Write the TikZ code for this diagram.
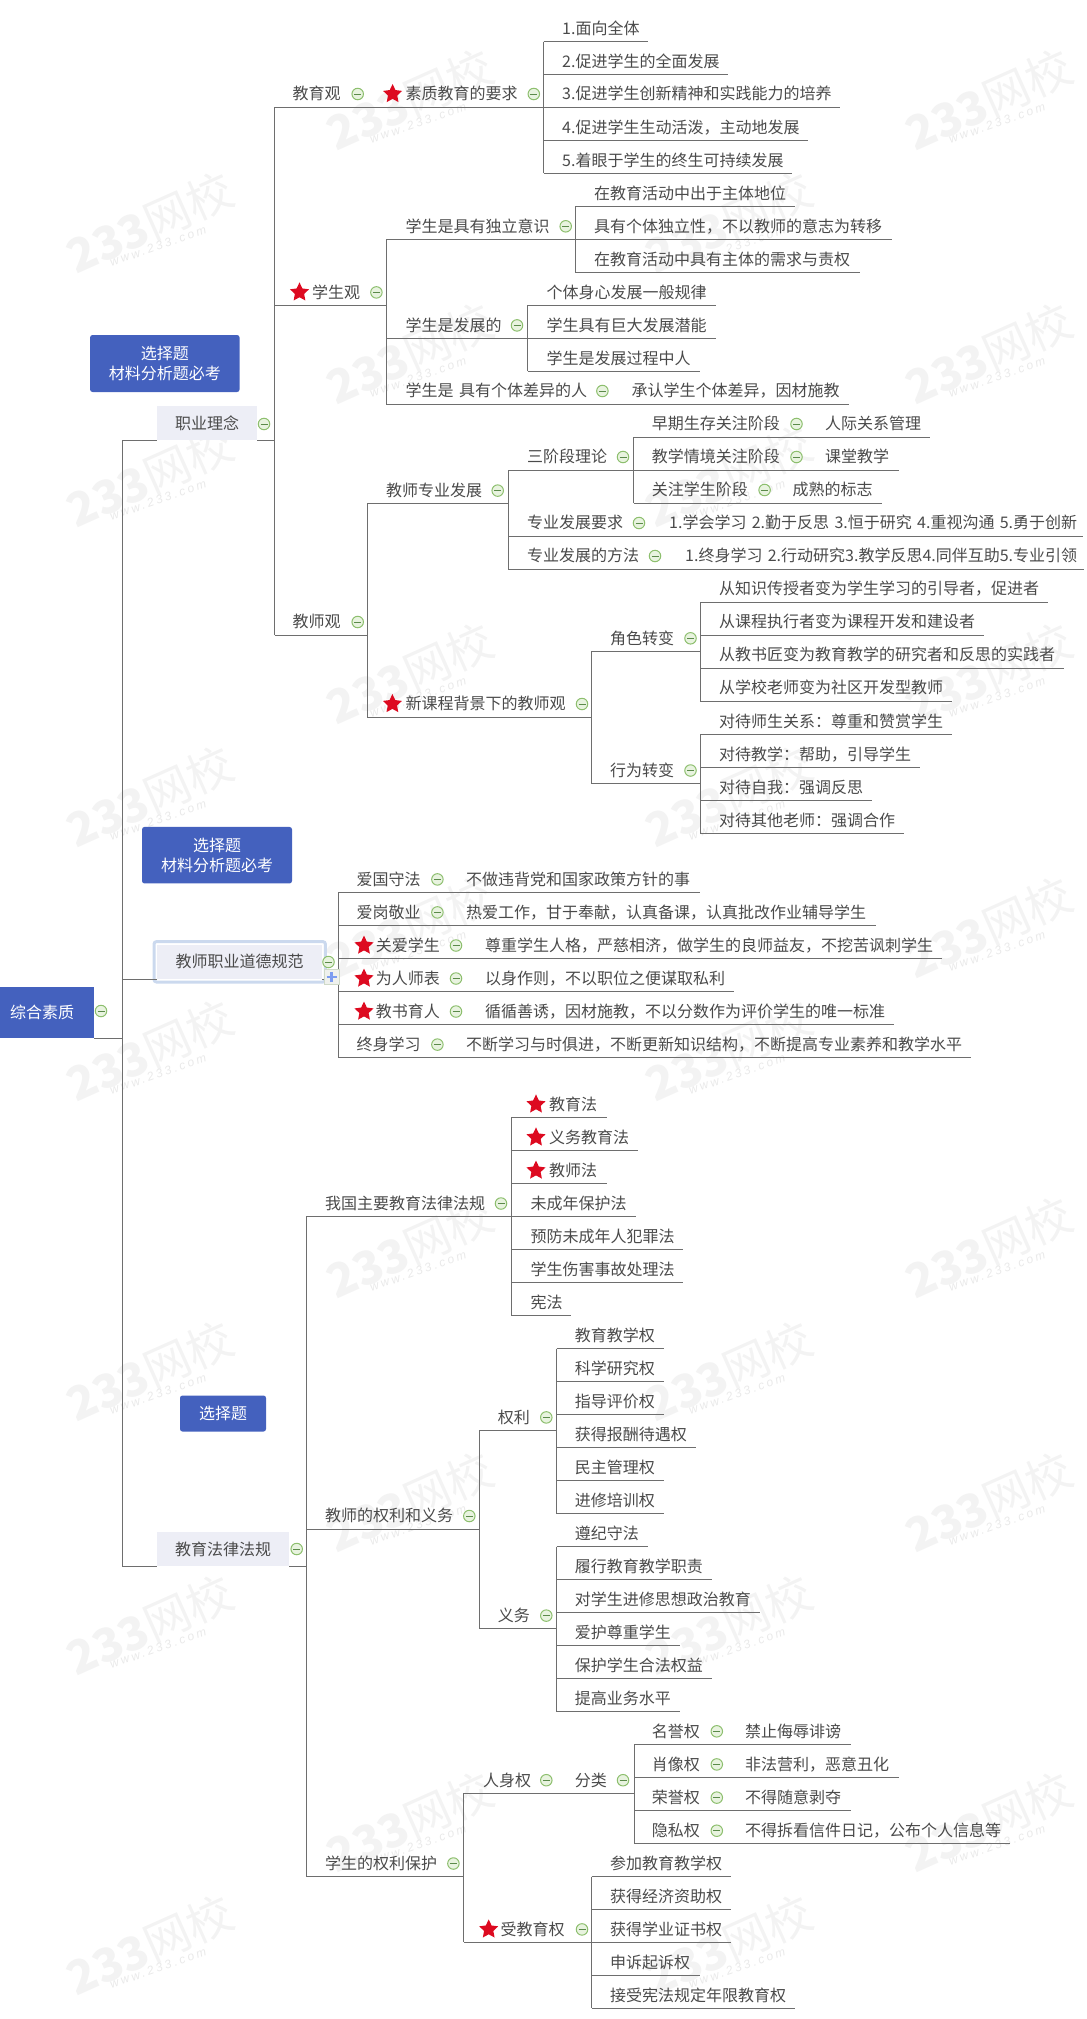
\documentclass[tikz,border=0pt]{standalone}
\usepackage{fontspec}
\setmainfont{Noto Sans CJK SC}
\newfontfamily\wmsmall[LetterSpace=22]{Liberation Sans}
\usetikzlibrary{shapes.geometric}
\definecolor{txtc}{HTML}{4A4A4A}
\definecolor{wirec}{HTML}{6E6E6E}
\definecolor{notec}{HTML}{4461BE}
\definecolor{branchc}{HTML}{EDEEF6}
\definecolor{wmc}{HTML}{F3F3F3}
\definecolor{iconline}{HTML}{8DBF6E}
\definecolor{iconfill}{HTML}{E8F3DF}
\definecolor{iconbar}{HTML}{5B8A4A}
\definecolor{starc}{HTML}{DD0A20}
\definecolor{framec}{HTML}{CBD9EE}
\definecolor{pluscol}{HTML}{7C9CF0}
\tikzset{
  wire/.style={draw=wirec,line width=0.9pt},
  topic/.style 2 args={anchor=south west,inner sep=0pt,text width=#2pt,align=left,
    text height=16pt,text depth=7pt,text=txtc,font=\fontsize{16pt}{20pt}\selectfont,
    execute at begin node={\hspace*{#1pt}},
    append after command={(\tikzlastnode.south west) edge[wire] (\tikzlastnode.south east)}},
  note/.style={fill=notec,text=white,rounded corners=2.5pt,inner sep=0pt,align=center,
    font=\fontsize{16pt}{20.5pt}\selectfont},
  branch/.style={anchor=south west,fill=branchc,text=txtc,inner sep=0pt,minimum height=34pt,
    font=\fontsize{16pt}{20pt}\selectfont},
  minus/.style={circle,draw=iconline,fill=iconfill,line width=1pt,minimum size=11.5pt,inner sep=0pt,
    path picture={\draw[iconbar,line width=0.9pt] ([xshift=-3.5pt]path picture bounding box.center) -- ([xshift=3.5pt]path picture bounding box.center);}},
  redstar/.style={star,star points=5,star point ratio=2.05,fill=starc,inner sep=0pt,minimum size=20pt},
  wmark/.style={rotate=24,text=wmc,font=\fontsize{46pt}{46pt}\selectfont,inner sep=0pt},
  wmarksub/.style={rotate=19,text=wmc!96!black,font=\fontsize{12pt}{12pt}\wmsmall\itshape,inner sep=0pt}
}
\begin{document}
\begin{tikzpicture}[x=1pt,y=-1pt]
  \useasboundingbox (0,0) rectangle (1087,2019);
  % watermark
  \foreach \x/\ylist [count=\c] in {150/{223,477,797,1051,1371,1625,1945},729/{223,477,797,1051,1371,1625,1945},410/{100,354,674,928,1248,1502,1822},989/{100,354,674,928,1248,1502,1822}}{
    \foreach \y [count=\i] in \ylist {
      \node[wmark] (wm\c\i) at (\x,\y) {\textbf{233}网校};
      \node[wmarksub] (ws\c\i) at (\x+8,\y+23) {www.233.com};
    }
  }
  % root and first level
  \node[anchor=south west,fill=notec,text=white,inner sep=0pt,minimum width=94pt,minimum height=51pt,font=\fontsize{16pt}{20pt}\selectfont] (root) at (0,1038) {综合素质\hspace*{10pt}};
  \node[branch,minimum width=100pt] (zyln) at (157,440) {职业理念};
  \node[branch,minimum width=165pt] (ddgf) at (157,979) {教师职业道德规范};
  \node[branch,minimum width=132pt] (flfg) at (157,1566.6) {教育法律法规};
  \draw[draw=framec,line width=3pt,rounded corners=2.5pt] ([shift={(-3,3)}]ddgf.south west) rectangle ([shift={(3,-3)}]ddgf.north east);
  \node[note,minimum width=149.5pt,minimum height=57pt] (note1) at (164.8,363.5) {选择题\\材料分析题必考};
  \node[note,minimum width=150pt,minimum height=56.5pt] (note2) at (217,855.2) {选择题\\材料分析题必考};
  \node[note,minimum width=86pt,minimum height=36pt] (note3) at (223,1413.5) {选择题};
  \coordinate (trunk) at (122.7,440);
  \draw[wire] (trunk) -- (trunk |- flfg.south west);
  \draw[wire] (root.south east) -- (root.south east -| trunk);
  \draw[wire] (trunk) -- (zyln.south west);
  \draw[wire] (ddgf.south west -| trunk) -- (ddgf.south west);
  \draw[wire] (flfg.south west -| trunk) -- (flfg.south west);
  % 职业理念
  \node[topic={18}{100.5}] (jyg) at (274.5,107.1) {教育观};
  \node[topic={30.5}{168.5}] (szjy) at (375,107.1) {素质教育的要求};
  \node[topic={18.5}{104.5}] (sz1) at (543.5,41.5) {1.面向全体};
  \node[topic={18.5}{184.5}] (sz2) at (543.5,74.5) {2.促进学生的全面发展};
  \node[topic={18.5}{296.5}] (sz3) at (543.5,107.1) {3.促进学生创新精神和实践能力的培养};
  \node[topic={18.5}{264.5}] (sz4) at (543.5,140.2) {4.促进学生生动活泼，主动地发展};
  \node[topic={18.5}{248.5}] (sz5) at (543.5,173.2) {5.着眼于学生的终生可持续发展};
  \node[topic={37.5}{111.5}] (xsg) at (274.5,305.4) {学生观};
  \node[topic={19.5}{189.4}] (dlys) at (386,239.3) {学生是具有独立意识};
  \node[topic={18.6}{219.6}] (dl1) at (575.4,206.3) {在教育活动中出于主体地位};
  \node[topic={18.6}{316.1}] (dl2) at (575.4,239.3) {具有个体独立性，不以教师的意志为转移};
  \node[topic={18.6}{284.2}] (dl3) at (575.4,272.3) {在教育活动中具有主体的需求与责权};
  \node[topic={19.5}{141.5}] (fzd) at (386,338.4) {学生是发展的};
  \node[topic={18.8}{187.9}] (fz1) at (527.5,305.4) {个体身心发展一般规律};
  \node[topic={18.8}{187.9}] (fz2) at (527.5,338.4) {学生具有巨大发展潜能};
  \node[topic={18.8}{172}] (fz3) at (527.5,371.4) {学生是发展过程中人};
  \node[topic={19.5}{234}] (gtcy) at (386,404) {学生是 具有个体差异的人};
  \node[topic={11.5}{228.5}] (gt1) at (620,404) {承认学生个体差异，因材施教};
  \node[topic={18}{92.9}] (jsg) at (274.5,635) {教师观};
  \node[topic={18.6}{140.6}] (zyfz) at (367.4,503.6) {教师专业发展};
  \node[topic={19}{125.6}] (sjd) at (508,470) {三阶段理论};
  \node[topic={18}{178.4}] (zq) at (633.6,437) {早期生存关注阶段};
  \node[topic={13}{118}] (zq1) at (812,437) {人际关系管理};
  \node[topic={18}{178.4}] (qj) at (633.6,470) {教学情境关注阶段};
  \node[topic={13}{86.5}] (qj1) at (812,470) {课堂教学};
  \node[topic={18}{146.4}] (gz) at (633.6,503) {关注学生阶段};
  \node[topic={12.4}{102}] (gz1) at (780,503) {成熟的标志};
  \node[topic={19}{147}] (fzyq) at (508,536) {专业发展要求};
  \node[topic={14}{428}] (yq1) at (655,536) {1.学会学习 2.勤于反思 3.恒于研究 4.重视沟通 5.勇于创新};
  \node[topic={19}{164}] (fzff) at (508,569) {专业发展的方法};
  \node[topic={13}{411.5}] (ff1) at (672,569) {1.终身学习 2.行动研究3.教学反思4.同伴互助5.专业引领};
  \node[topic={38.1}{224.1}] (xkc) at (367.4,717) {新课程背景下的教师观};
  \node[topic={18.5}{108.5}] (jszb) at (591.5,651.3) {角色转变};
  \node[topic={19}{348}] (js1) at (700,602) {从知识传授者变为学生学习的引导者，促进者};
  \node[topic={19}{283.7}] (js2) at (700,635) {从课程执行者变为课程开发和建设者};
  \node[topic={19}{364}] (js3) at (700,668) {从教书匠变为教育教学的研究者和反思的实践者};
  \node[topic={19}{252}] (js4) at (700,701) {从学校老师变为社区开发型教师};
  \node[topic={18.5}{108.5}] (xwzb) at (591.5,783.5) {行为转变};
  \node[topic={19}{252}] (xw1) at (700,734.4) {对待师生关系：尊重和赞赏学生};
  \node[topic={19}{220}] (xw2) at (700,767.4) {对待教学：帮助，引导学生};
  \node[topic={19}{172}] (xw3) at (700,800.4) {对待自我：强调反思};
  \node[topic={19}{204}] (xw4) at (700,833.5) {对待其他老师：强调合作};
  % 教师职业道德规范
  \node[topic={18}{116.7}] (ag) at (338.3,892.4) {爱国守法};
  \node[topic={11}{244.5}] (ag1) at (455,892.4) {不做违背党和国家政策方针的事};
  \node[topic={18}{116.7}] (aj) at (338.3,925.4) {爱岗敬业};
  \node[topic={11}{420.6}] (aj1) at (455,925.4) {热爱工作，甘于奉献，认真备课，认真批改作业辅导学生};
  \node[topic={37.4}{135.7}] (ga) at (338.3,958.5) {关爱学生};
  \node[topic={11}{468}] (ga1) at (474,958.5) {尊重学生人格，严慈相济，做学生的良师益友，不挖苦讽刺学生};
  \node[topic={37.4}{135.7}] (wr) at (338.3,991.5) {为人师表};
  \node[topic={11}{259.5}] (wr1) at (474,991.5) {以身作则，不以职位之便谋取私利};
  \node[topic={37.4}{135.7}] (jy) at (338.3,1024.5) {教书育人};
  \node[topic={11}{420}] (jy1) at (474,1024.5) {循循善诱，因材施教，不以分数作为评价学生的唯一标准};
  \node[topic={18}{116.7}] (zs) at (338.3,1057.6) {终身学习};
  \node[topic={11}{516}] (zs1) at (455,1057.6) {不断学习与时俱进，不断更新知识结构，不断提高专业素养和教学水平};
  % 教育法律法规
  \node[topic={18.6}{205.2}] (fgs) at (306.4,1216.5) {我国主要教育法律法规};
  \node[topic={37.4}{95}] (fg1) at (511.6,1117.4) {教育法};
  \node[topic={37.4}{126.4}] (fg2) at (511.6,1150.4) {义务教育法};
  \node[topic={37.4}{95}] (fg3) at (511.6,1183.5) {教师法};
  \node[topic={18.7}{124.4}] (fg4) at (511.6,1216.5) {未成年保护法};
  \node[topic={18.7}{171.4}] (fg5) at (511.6,1249.6) {预防未成年人犯罪法};
  \node[topic={18.7}{171.4}] (fg6) at (511.6,1282.6) {学生伤害事故处理法};
  \node[topic={18.7}{59.4}] (fg7) at (511.6,1315.6) {宪法};
  \node[topic={18.6}{173.3}] (qlyw) at (306.4,1529) {教师的权利和义务};
  \node[topic={18}{77}] (ql) at (479.7,1430.4) {权利};
  \node[topic={18}{107.3}] (ql1) at (556.7,1348.7) {教育教学权};
  \node[topic={18}{107.3}] (ql2) at (556.7,1381.7) {科学研究权};
  \node[topic={18}{107.3}] (ql3) at (556.7,1414.6) {指导评价权};
  \node[topic={18}{139.3}] (ql4) at (556.7,1447.4) {获得报酬待遇权};
  \node[topic={18}{107.3}] (ql5) at (556.7,1480.5) {民主管理权};
  \node[topic={18}{107.3}] (ql6) at (556.7,1513.7) {进修培训权};
  \node[topic={18}{77}] (yw) at (479.7,1628.6) {义务};
  \node[topic={18}{91.3}] (yw1) at (556.7,1546.5) {遵纪守法};
  \node[topic={18}{155.3}] (yw2) at (556.7,1579.6) {履行教育教学职责};
  \node[topic={18}{203.3}] (yw3) at (556.7,1612.4) {对学生进修思想政治教育};
  \node[topic={18}{123.3}] (yw4) at (556.7,1645.6) {爱护尊重学生};
  \node[topic={18}{155.3}] (yw5) at (556.7,1678.3) {保护学生合法权益};
  \node[topic={18}{123.3}] (yw6) at (556.7,1711.5) {提高业务水平};
  \node[topic={18.6}{157.4}] (xsqb) at (306.4,1876.5) {学生的权利保护};
  \node[topic={19.2}{96.2}] (rsq) at (463.8,1793.2) {人身权};
  \node[topic={14.7}{74}] (fl) at (560,1793.2) {分类};
  \node[topic={17.6}{96}] (mu) at (634,1744.3) {名誉权};
  \node[topic={15}{120.6}] (mu1) at (730,1744.3) {禁止侮辱诽谤};
  \node[topic={17.6}{96}] (xx) at (634,1777.4) {肖像权};
  \node[topic={15}{168.4}] (xx1) at (730,1777.4) {非法营利，恶意丑化};
  \node[topic={17.6}{96}] (ry) at (634,1810.6) {荣誉权};
  \node[topic={15}{120.6}] (ry1) at (730,1810.6) {不得随意剥夺};
  \node[topic={17.6}{96}] (ys) at (634,1843.7) {隐私权};
  \node[topic={15}{280}] (ys1) at (730,1843.7) {不得拆看信件日记，公布个人信息等};
  \node[topic={36.7}{127.7}] (sjy) at (463.8,1942.4) {受教育权};
  \node[topic={18.5}{139.5}] (sj1) at (591.5,1876.5) {参加教育教学权};
  \node[topic={18.5}{139.5}] (sj2) at (591.5,1909.6) {获得经济资助权};
  \node[topic={18.5}{139.5}] (sj3) at (591.5,1942.4) {获得学业证书权};
  \node[topic={18.5}{108}] (sj4) at (591.5,1975.6) {申诉起诉权};
  \node[topic={18.5}{203.5}] (sj5) at (591.5,2008.4) {接受宪法规定年限教育权};
  % brackets
  \foreach \a/\b in {jyg/jsg,sz1/sz5,dlys/gtcy,dl1/dl3,fz1/fz3,zyfz/xkc,sjd/fzff,zq/gz,jszb/xwzb,js1/js4,xw1/xw4,ag/zs,fgs/xsqb,fg1/fg7,ql/yw,ql1/ql6,yw1/yw6,rsq/sjy,mu/ys,sj1/sj5}
    \draw[wire] (\a.south west) -- (\b.south west);
  \draw[wire] (zyln.south east) -- (zyln.south east -| jyg.south west);
  \draw[wire] (ddgf.south east) -- (ddgf.south east -| ag.south west);
  \draw[wire] (flfg.south east) -- (flfg.south east -| fgs.south west);
  % stars and collapse marks
  \foreach \x/\y [count=\i] in {392.6/94,299.5/292.4,392.4/704,364/945.5,364/978.5,364/1011.5,536/1104.4,536/1137.4,536/1170.5,488.7/1929.4}
    \node[redstar] (st\i) at (\x,\y) {};
  \foreach \x/\y [count=\i] in {357.7/94,533.8/94,376.4/292.4,565.7/226.3,517/325.4,602.4/391,357.7/622,497.7/490.6,623/457,796.5/424,796.5/457,764.6/490,639/523,655/556,582/704,690.5/638.3,690.5/770.5,437.4/879.4,437.4/912.4,456/945.5,456/978.5,456/1011.5,437.4/1044.6,501/1203.5,469.3/1516,546.3/1417.4,546.3/1615.6,453.4/1863.5,546.3/1780.2,623/1780.2,716.8/1731.3,716.8/1764.4,716.8/1797.6,716.8/1830.7,582/1929.4,101/1011,264/424,328.5/962,296.7/1549}
    \node[minus] (mk\i) at (\x,\y) {};
  \node[draw=iconline!50!gray!40,fill=iconfill!70!gray!30,minimum size=15pt,inner sep=0pt] (plusbox) at (331.5,977) {};
  \draw[pluscol,line width=2.2pt] ([xshift=-5pt]plusbox.center) -- ([xshift=5pt]plusbox.center);
  \draw[pluscol,line width=2.2pt] ([yshift=-5pt]plusbox.center) -- ([yshift=5pt]plusbox.center);
\end{tikzpicture}
\end{document}
